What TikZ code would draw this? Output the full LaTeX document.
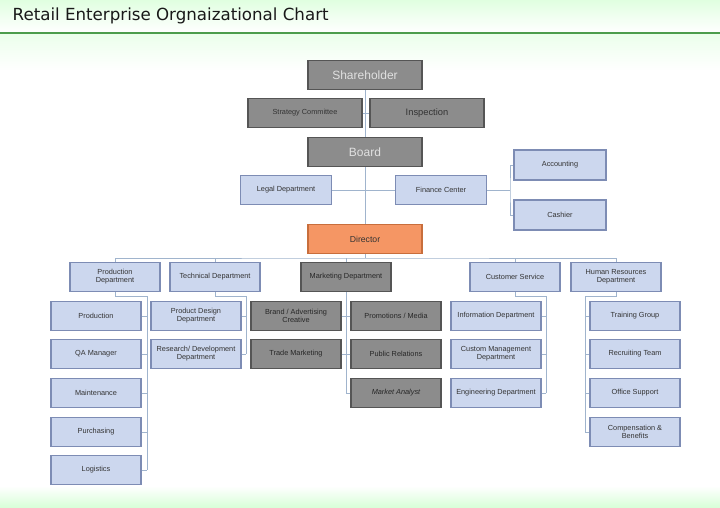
\documentclass[tikz,border=0pt]{standalone}
\usepackage{fontspec}
\setmainfont{Liberation Sans}
\newfontfamily\titlefont{DejaVu Sans}
\definecolor{bfill}{RGB}{204,215,238}
\definecolor{bdraw}{RGB}{125,140,180}
\definecolor{gfill}{RGB}{140,140,140}
\definecolor{gdraw}{RGB}{85,85,85}
\definecolor{ofill}{RGB}{245,150,100}
\definecolor{odraw}{RGB}{200,110,60}
\definecolor{lcol}{RGB}{160,180,205}
\begin{document}
\begin{tikzpicture}[x=0.75pt,y=-0.75pt,
 box/.style={line width=0.8pt,minimum width=90*0.75pt,minimum height=29*0.75pt,inner sep=1pt,align=center,font=\fontsize{5.5}{6}\selectfont},
 blue/.style={box,draw=bdraw,fill=bfill,text=black!80},
 gray/.style={box,draw=gdraw,fill=gfill,text=black!85},
 top/.style={box,draw=gdraw,fill=gfill,text=white!88!black,minimum width=114*0.75pt,font=\fontsize{9}{10}\selectfont},
 ln/.style={draw=lcol,line width=0.7pt}]
\useasboundingbox (0,0) rectangle (720,507);
\shade[top color=green!12!white,bottom color=white] (0,0) rectangle (720,32);
\shade[top color=green!8!white,bottom color=white] (0,33) rectangle (720,70);
\draw[green!45!black!70,line width=1.5pt] (0,32.5) -- (720,32.5);
\shade[top color=white,bottom color=green!15!white] (0,486) rectangle (720,507);
\node[anchor=west,font=\titlefont\fontsize{12.5}{14}\selectfont,text=black!90] (title) at (8,16) {Retail Enterprise Orgnaizational Chart};
% top
\node[top] (sh) at (365,75) {Shareholder};
\node[top,font=\fontsize{5.5}{6}\selectfont,text=black!80] (sc) at (305,113) {Strategy Committee};
\node[top,font=\fontsize{7}{8}\selectfont,text=black!80] (in) at (427,113) {Inspection};
\node[top] (bo) at (365,152) {Board};
\node[blue,minimum width=91*0.75pt] (le) at (286,190) {Legal Department};
\node[blue,minimum width=91*0.75pt] (fi) at (441,190) {Finance Center};
\node[blue,minimum width=92*0.75pt,minimum height=30*0.75pt] (ac) at (560,165) {Accounting};
\node[blue,minimum width=92*0.75pt,minimum height=30*0.75pt] (ca) at (560,215) {Cashier};
\node[box,draw=odraw,fill=ofill,text=black!80,minimum width=114*0.75pt,font=\fontsize{6.5}{7}\selectfont] (di) at (365,239) {Director};
\draw[ln] (sh) -- (bo);
\draw[ln] (sc) -- (in);
\draw[ln] (bo) -- (di);
\draw[ln] (le) -- (fi);
\coordinate (fb) at (510,190);
\draw[ln] (fi) -- (fb);
\draw[ln] (ac.west) -| (fb) |- (ca.west);
% level 2
\node[blue] (pd) at (115,277) {Production\\Department};
\node[blue] (td) at (215,277) {Technical Department};
\node[gray] (md) at (346,277) {Marketing Department};
\node[blue] (cs) at (515,277) {Customer Service};
\node[blue] (hr) at (616,277) {Human Resources\\Department};
\coordinate (bus) at (365,258);
\draw[ln] (di) -- (bus);
\draw[ln] (pd.north) |- (bus) -| (hr.north);
\draw[ln] (td.north) -- (td.north|-bus);
\draw[ln] (md.north) -- (md.north|-bus);
\draw[ln] (cs.north) -- (cs.north|-bus);
% production column
\foreach \n/\t/\y in {p1/Production/316,p2/QA Manager/354,p3/Maintenance/393,p4/Purchasing/432,p5/Logistics/470}
 {\node[blue] (\n) at (96,\y) {\t};}
\coordinate (pv) at (147,296);
\draw[ln] (pd.south) |- (pv) -- (147,470);
\foreach \n in {p1,p2,p3,p4,p5} \draw[ln] (\n.east) -- (\n.east-|pv);
% technical
\node[blue] (t1) at (196,316) {Product Design\\Department};
\node[blue] (t2) at (196,354) {Research/ Development\\Department};
\coordinate (tv) at (246,296);
\draw[ln] (td.south) |- (tv) -- (246,354);
\foreach \n in {t1,t2} \draw[ln] (\n.east) -- (\n.east-|tv);
% marketing
\node[gray] (m1) at (296,316) {Brand / Advertising\\Creative};
\node[gray] (m2) at (296,354) {Trade Marketing};
\node[gray] (m3) at (396,316) {Promotions / Media};
\node[gray] (m4) at (396,354) {Public Relations};
\node[gray,font=\fontsize{5.5}{6}\selectfont\itshape] (m5) at (396,393) {Market Analyst};
\draw[ln] (md.south) -- (346,393);
\foreach \n in {m1,m2} \draw[ln] (\n.east) -- (\n.east-|md);
\foreach \n in {m3,m4,m5} \draw[ln] (\n.west) -- (\n.west-|md);
% customer
\node[blue] (c1) at (496,316) {Information Department};
\node[blue] (c2) at (496,354) {Custom Management\\Department};
\node[blue] (c3) at (496,393) {Engineering Department};
\coordinate (cv) at (546,296);
\draw[ln] (cs.south) |- (cv) -- (546,393);
\foreach \n in {c1,c2,c3} \draw[ln] (\n.east) -- (\n.east-|cv);
% HR
\node[blue] (h1) at (635,316) {Training Group};
\node[blue] (h2) at (635,354) {Recruiting Team};
\node[blue] (h3) at (635,393) {Office Support};
\node[blue] (h4) at (635,432) {Compensation \&\\Benefits};
\coordinate (hv) at (585,296);
\draw[ln] (hr.south) |- (hv) -- (585,432);
\foreach \n in {h1,h2,h3,h4} \draw[ln] (\n.west) -- (\n.west-|hv);
\end{tikzpicture}
\end{document}
